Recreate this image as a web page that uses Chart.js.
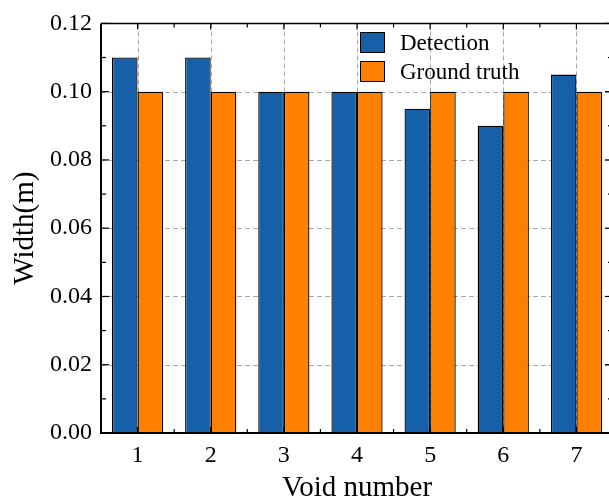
<!DOCTYPE html>
<html>
<head>
<meta charset="utf-8">
<script src="https://cdn.jsdelivr.net/npm/chart.js@4/dist/chart.umd.min.js"></script>
<style>
  html, body { margin: 0; padding: 0; background: #fff; overflow: hidden; }
  #wrap { width: 609px; height: 502px; overflow: hidden; }
  canvas { display: block; }
</style>
</head>
<body>
<div id="wrap"><canvas id="c" width="614" height="502" style="width:614px;height:502px"></canvas></div>
<script>
// Void widths: detected vs. ground truth (metres)
const voidNumbers = ['1', '2', '3', '4', '5', '6', '7'];
const detection   = [0.110, 0.110, 0.100, 0.100, 0.095, 0.090, 0.105];
const groundTruth = [0.100, 0.100, 0.100, 0.100, 0.100, 0.100, 0.100];
const yMin = 0, yMax = 0.12, yStep = 0.02;

const SERIF = '"Liberation Serif", "Times New Roman", serif';
const BLUE = '#1660AA';
const ORANGE = '#FF8000';

// Dashed grid behind the bars, closed frame with inward ticks on top
const framePlugin = {
  id: 'frame',
  beforeDatasetsDraw(chart) {
    const { ctx, chartArea: a, scales: { x, y } } = chart;
    ctx.save();
    ctx.strokeStyle = '#a8a8a8';
    ctx.lineWidth = 1;
    ctx.setLineDash([5, 3]);
    ctx.beginPath();
    y.ticks.forEach(t => {
      if (t.value > yMin + 1e-9 && t.value < yMax - 1e-9) {
        const py = Math.round(y.getPixelForValue(t.value)) + 0.5;
        ctx.moveTo(a.left, py); ctx.lineTo(a.right, py);
      }
    });
    x.ticks.forEach((t, i) => {
      const px = Math.round(x.getPixelForTick(i)) + 0.5;
      ctx.moveTo(px, a.top); ctx.lineTo(px, a.bottom);
    });
    ctx.stroke();
    ctx.restore();
  },
  afterDatasetsDraw(chart) {
    const { ctx, chartArea: a, scales: { x, y } } = chart;
    ctx.save();
    ctx.strokeStyle = '#000';
    ctx.setLineDash([]);
    ctx.lineWidth = 1.2;
    const seg = (x1, y1, x2, y2) => { ctx.beginPath(); ctx.moveTo(x1, y1); ctx.lineTo(x2, y2); ctx.stroke(); };

    // y ticks (left and right), major + minor
    y.ticks.forEach(t => {
      const py = y.getPixelForValue(t.value);
      seg(a.left, py, a.left + 8, py);
      seg(a.right, py, a.right - 8, py);
      const mv = t.value + yStep / 2;
      if (mv < yMax) {
        const pm = y.getPixelForValue(mv);
        seg(a.left, pm, a.left + 5, pm);
        seg(a.right, pm, a.right - 5, pm);
      }
    });
    // x ticks (bottom and top), major at categories, minor at boundaries
    const n = x.ticks.length;
    for (let i = 0; i < n; i++) {
      const px = x.getPixelForTick(i);
      seg(px, a.bottom, px, a.bottom - 6);
      seg(px, a.top, px, a.top + 6);
      if (i < n - 1) {
        const pm = (px + x.getPixelForTick(i + 1)) / 2;
        seg(pm, a.bottom, pm, a.bottom - 4);
        seg(pm, a.top, pm, a.top + 4);
      }
    }
    // frame
    ctx.lineWidth = 2;
    seg(a.left, a.bottom, a.right, a.bottom);
    seg(a.left, a.top, a.left, a.bottom + 1);
    ctx.lineWidth = 1.5;
    seg(a.left, a.top, a.right, a.top);
    seg(a.right, a.top, a.right, a.bottom);
    ctx.restore();
  }
};

// Legend inside the plot, stacked vertically
const legendPlugin = {
  id: 'insideLegend',
  afterDraw(chart) {
    const { ctx } = chart;
    const boxX = 360, boxW = 25, boxH = 21, firstTop = 32, rowGap = 29, textX = 400;
    ctx.save();
    ctx.font = '23px ' + SERIF;
    ctx.textBaseline = 'middle';
    ctx.textAlign = 'left';
    chart.data.datasets.forEach((ds, i) => {
      const top = firstTop + i * rowGap;
      ctx.fillStyle = ds.backgroundColor;
      ctx.fillRect(boxX, top, boxW, boxH);
      ctx.strokeStyle = '#000';
      ctx.lineWidth = 1;
      ctx.strokeRect(boxX + 0.5, top + 0.5, boxW - 1, boxH - 1);
      ctx.fillStyle = '#000';
      ctx.fillText(ds.label, textX, top + boxH / 2 + 1);
    });
    ctx.restore();
  }
};

new Chart(document.getElementById('c'), {
  type: 'bar',
  data: {
    labels: voidNumbers,
    datasets: [
      { label: 'Detection', data: detection, backgroundColor: BLUE, borderColor: '#000', borderWidth: 1.3,
        categoryPercentage: 0.7, barPercentage: 1.0 },
      { label: 'Ground truth', data: groundTruth, backgroundColor: ORANGE, borderColor: '#000', borderWidth: 1.3,
        categoryPercentage: 0.7, barPercentage: 1.0 }
    ]
  },
  options: {
    responsive: false,
    devicePixelRatio: 1,
    animation: false,
    layout: { autoPadding: false, padding: { top: 21, right: 1, left: 0, bottom: 0 } },
    plugins: { legend: { display: false }, tooltip: { enabled: false } },
    scales: {
      x: {
        grid: { display: false, drawTicks: false },
        border: { display: false },
        ticks: { color: '#000', padding: 8, font: { family: SERIF, size: 24, lineHeight: 1.2 }, maxRotation: 0 },
        title: { display: true, text: 'Void number', color: '#000',
                 font: { family: SERIF, size: 29, lineHeight: 1 }, padding: { top: 0, bottom: -1 } },
        afterFit(s) { s.height = 69; }
      },
      y: {
        min: yMin, max: yMax,
        grid: { display: false, drawTicks: false },
        border: { display: false },
        ticks: { stepSize: yStep, color: '#000', padding: 9,
                 font: { family: SERIF, size: 24, lineHeight: 1.2 },
                 callback: v => Number(v).toFixed(2) },
        title: { display: true, text: 'Width(m)', color: '#000',
                 font: { family: SERIF, size: 29, lineHeight: 1 }, padding: { top: 11, bottom: 0 } },
        afterFit(s) { s.width = 101; }
      }
    }
  },
  plugins: [framePlugin, legendPlugin]
});
</script>
</body>
</html>
